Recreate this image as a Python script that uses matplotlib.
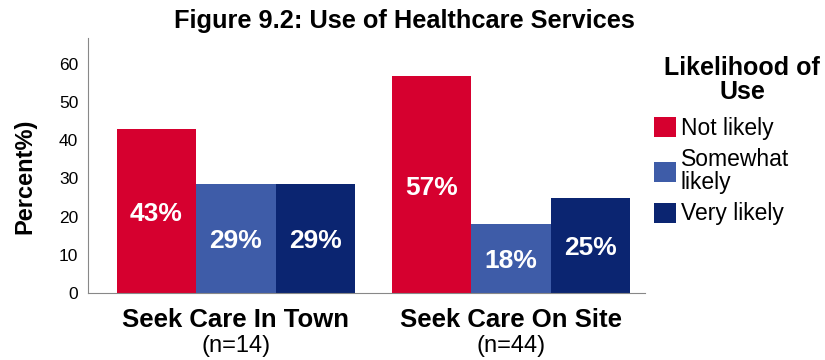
import numpy as np
import matplotlib.pyplot as plt
from matplotlib.patches import Patch

plt.rcParams['font.family'] = ['Liberation Sans', 'DejaVu Sans']

## data
groups = ['Seek Care In Town', 'Seek Care On Site']
group_n = ['(n=14)', '(n=44)']
series = ['Not likely', 'Somewhat\nlikely', 'Very likely']
not_likely = [42.9, 56.8]
somewhat_likely = [28.6, 18.2]
very_likely = [28.6, 25.0]
labels = [['43%', '57%'], ['29%', '18%'], ['29%', '25%']]

colors = ['#D6002F', '#3E5CA8', '#0B2571']

fig = plt.figure(figsize=(8.25, 3.6), dpi=100)
ax = fig.add_axes([88/825, 1-293/360, (645-88)/825, (293-38)/360])

x = np.arange(len(groups))
w = 0.289
vals = [not_likely, somewhat_likely, very_likely]
for i, v in enumerate(vals):
    pos = x + (i-1)*w
    ax.bar(pos, v, width=w, color=colors[i], edgecolor='none')
    for p, h, lab in zip(pos, v, labels[i]):
        ax.text(p, h/2 - 0.8, lab, ha='center', va='center', color='white',
                fontsize=19, fontweight='bold')

ax.set_xlim(-0.538, 1.487)
ax.set_ylim(0, 66.8)
ax.set_yticks(range(0, 61, 10))
ax.tick_params(axis='y', length=0, labelsize=12.5, pad=7)
ax.set_xticks([])
for g, n, xx in zip(groups, group_n, x):
    ax.annotate(g, (xx, 0), xycoords=('data', 'axes fraction'),
                xytext=(0, -24.5), textcoords='offset points',
                ha='center', va='baseline', fontsize=18.5, fontweight='bold')
    ax.annotate(n, (xx, 0), xycoords=('data', 'axes fraction'),
                xytext=(0, -42.5), textcoords='offset points',
                ha='center', va='baseline', fontsize=17)
ax.spines['top'].set_visible(False)
ax.spines['right'].set_visible(False)
ax.spines['left'].set_color('#888888')
ax.spines['bottom'].set_color('#888888')

fig.text(25/825, 1-176/360, 'Percent%)', rotation=90, ha='center', va='center',
         fontsize=17, fontweight='bold')
fig.text(404/825, 1-28/360, 'Figure 9.2: Use of Healthcare Services',
         ha='center', va='baseline', fontsize=18.3, fontweight='bold')

# legend title drawn separately so the entries can sit lower
fig.text(742/825, 1-80/360, 'Likelihood of\nUse', ha='center', va='center',
         multialignment='center', fontsize=18, fontweight='bold', linespacing=1.03)

handles = [Patch(facecolor=c, edgecolor='none') for c in colors]
leg = fig.legend(handles, series, loc='upper left', bbox_to_anchor=(654/825, 1-117/360),
                 frameon=False, fontsize=16.5, borderpad=0, borderaxespad=0,
                 handlelength=0.96, handleheight=0.96, handletextpad=0.2,
                 labelspacing=0.36)
for t in leg.get_texts():
    t.set_linespacing(1.0)

fig.savefig('out.png', dpi=100)
